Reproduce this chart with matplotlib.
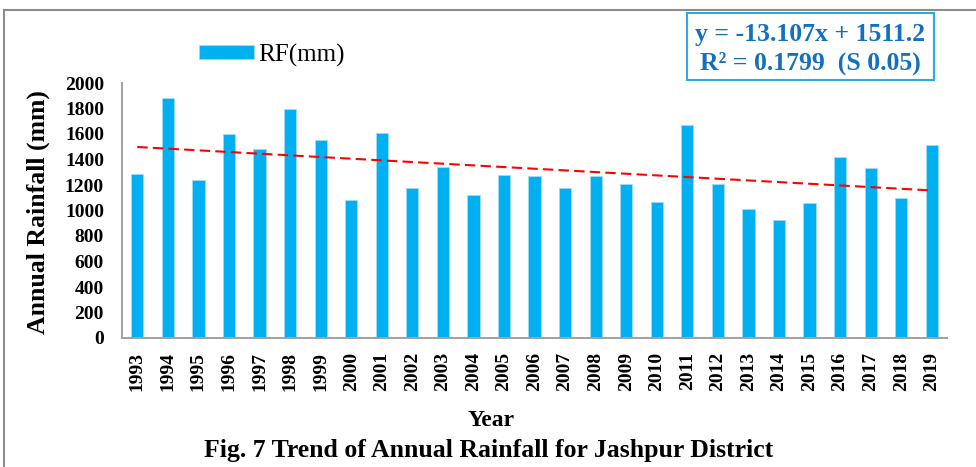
import numpy as np
import matplotlib
matplotlib.use("Agg")
import matplotlib.pyplot as plt
from matplotlib.patches import Rectangle

plt.rcParams["font.family"] = ["Liberation Serif", "DejaVu Serif"]

# annual rainfall (mm)
years = [1993, 1994, 1995, 1996, 1997, 1998, 1999, 2000, 2001, 2002,
         2003, 2004, 2005, 2006, 2007, 2008, 2009, 2010, 2011, 2012,
         2013, 2014, 2015, 2016, 2017, 2018, 2019]
rainfall = [1289, 1885, 1239, 1597, 1482, 1793, 1555, 1082, 1605, 1176,
            1344, 1121, 1278, 1268, 1176, 1268, 1205, 1067, 1671, 1210,
            1012, 923, 1061, 1420, 1331, 1096, 1511]
# linear trend as printed on the chart (x = 1..N)
slope = -13.107
intercept = 1511.2
r2_text = "R\u00b2 = 0.1799  (S 0.05)"
eq_text = "y = -13.107x + 1511.2"

BAR_C = "#00B0F0"
EQ_C = "#1370C0"
W, H = 976, 467

fig = plt.figure(figsize=(W / 100, H / 100), dpi=100)
ax = fig.add_axes([122 / W, 1 - 338 / H, 825 / W, 255 / H])

x = np.arange(len(years))
ax.bar(x, rainfall, width=0.4, color=BAR_C, edgecolor="#9fdcf5", linewidth=0.6,
       label="RF(mm)", zorder=2)
trend = slope * (x + 1) + intercept
ax.plot(x, trend, color="red", ls=(0, (5, 2.5)), lw=1.5, zorder=3)

ax.set_xlim(-0.5, len(years) - 0.5)
ax.set_ylim(0, 2000)
ax.set_yticks(np.arange(0, 2001, 200))
ax.set_xticks(x)
ax.set_xticklabels([str(y) for y in years], rotation=90, fontsize=14, fontweight="bold")
ax.set_yticklabels([str(v) for v in range(0, 2001, 200)], fontsize=14, fontweight="bold")
ax.tick_params(axis="both", length=0)
ax.tick_params(axis="x", pad=10)
ax.tick_params(axis="y", pad=13)
for s in ("top", "right"):
    ax.spines[s].set_visible(False)
for s in ("left", "bottom"):
    ax.spines[s].set_color("#a0a0a0")
    ax.spines[s].set_linewidth(1.4)

fig.legend(loc="center left", bbox_to_anchor=(199 / W, 1 - 55 / H), frameon=False,
           fontsize=18, handlelength=2.2, handleheight=0.5, handletextpad=0.15,
           borderpad=0, borderaxespad=0)

fig.text(38 / W, 1 - 212 / H, "Annual Rainfall (mm)", rotation=90, ha="center",
         va="center", fontsize=18.5, fontweight="bold")
fig.text(491 / W, 1 - 426 / H, "Year", ha="center", va="baseline",
         fontsize=17, fontweight="bold")
fig.text(489 / W, 1 - 457 / H, "Fig. 7 Trend of Annual Rainfall for Jashpur District",
         ha="center", va="baseline", fontsize=18.5, fontweight="bold")

# equation box
fig.patches.append(Rectangle((687 / W, 1 - 80 / H), 247 / W, 67 / H,
                             transform=fig.transFigure, fill=False,
                             edgecolor="#2CAAE2", lw=1.5))
fig.text(810 / W, 1 - 41 / H, eq_text, ha="center", va="baseline",
         fontsize=18.5, fontweight="bold", color=EQ_C)
fig.text(810 / W, 1 - 70 / H, r2_text, ha="center", va="baseline",
         fontsize=18.5, fontweight="bold", color=EQ_C)

# outer frame
fig.patches.append(Rectangle((4 / W, -0.1), 1.2, 1.1 - 10 / H,
                             transform=fig.transFigure, fill=False,
                             edgecolor="#8c8c8c", lw=1.5, clip_on=False))

fig.savefig("out.png", dpi=100)
